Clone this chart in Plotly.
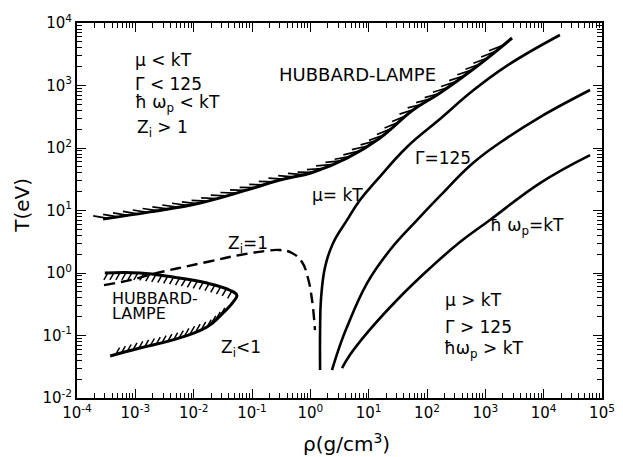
import numpy as np
import plotly.graph_objects as go

# ---- boundaries in the density / temperature plane (rho in g/cm^3, T in eV) ----
hl_upper_rho = [2.8e-4, 1.8e-3, 0.0129, 0.092, 0.30, 1.11, 4.25, 15.7, 57.5, 167, 810, 2870]
hl_upper_T = [7.3, 9.5, 13.2, 22, 30.8, 41, 69, 145, 405, 760, 2210, 5750]

# closed Hubbard-Lampe pocket at low T: upper edge out to the tip, then lower edge back
hl_loop_top_rho = [3.0e-4, 1.2e-3, 4.4e-3, 0.0169, 0.042, 0.055]
hl_loop_top_T = [1.0, 1.0, 0.86, 0.69, 0.53, 0.44]
hl_loop_bot_rho = [0.055, 0.047, 0.032, 0.0169, 4.4e-3, 1.2e-3, 3.7e-4]
hl_loop_bot_T = [0.44, 0.34, 0.23, 0.137, 0.085, 0.063, 0.047]

zi1_rho = [2.9e-4, 8.1e-4, 2.35e-3, 0.0169, 0.062, 0.167, 0.30, 0.485, 0.72, 0.91, 1.07, 1.20]
zi1_T = [0.64, 0.77, 1.0, 1.5, 1.94, 2.25, 2.33, 2.09, 1.5, 0.83, 0.37, 0.122]

mu_rho = [1.47, 1.47, 1.52, 1.79, 2.45, 4.25, 7.1, 13.9, 45.4, 167, 615, 2400, 19000]
mu_T = [0.028, 0.122, 0.37, 1.25, 3.0, 7.0, 14.7, 30.8, 104, 291, 830, 2100, 6430]

gamma_rho = [2.35, 3.23, 4.25, 9.4, 23.2, 67.4, 167, 615, 2355, 8670, 62400]
gamma_T = [0.028, 0.070, 0.137, 0.69, 2.33, 7.0, 17.1, 57.5, 145, 313, 847]

plasma_rho = [3.49, 4.79, 9.4, 30.6, 113, 368, 1200, 8670, 62400]
plasma_T = [0.030, 0.049, 0.11, 0.37, 1.2, 3.13, 7.05, 27.5, 77]

decades_x = list(range(-4, 6))
decades_y = list(range(-2, 5))

# ---- figure geometry ----
W, H = 623, 457
ML, MR, MT, MB = 77, 21, 23, 59
KX = (W - ML - MR) / (decades_x[-1] - decades_x[0])   # pixels per decade in rho
KY = (H - MT - MB) / (decades_y[-1] - decades_y[0])   # pixels per decade in T

INK = "black"
FONT = "DejaVu Sans, Verdana, sans-serif"


def to_screen(rho, T):
    return np.log10(np.asarray(rho, float)) * KX, -np.log10(np.asarray(T, float)) * KY


def from_screen(u, v):
    return 10 ** (np.asarray(u) / KX), 10 ** (-np.asarray(v) / KY)


def resample(rho, T, step):
    u, v = to_screen(rho, T)
    s = np.concatenate([[0.0], np.cumsum(np.hypot(np.diff(u), np.diff(v)))])
    ss = np.arange(step / 2, s[-1] - step / 4, step)
    return np.interp(ss, s, u), np.interp(ss, s, v)


def hatch_along(rho, T, step, length, turn_deg=None, fixed=None):
    """Short strokes attached to a boundary curve (screen-space lengths)."""
    u, v = resample(rho, T, step)
    xs, ys = [], []
    tu, tv = np.gradient(u), np.gradient(v)
    for i in range(len(u)):
        if fixed is not None:
            du, dv = fixed
            n = np.hypot(du, dv)
            du, dv = du / n * length, dv / n * length
        else:
            a = np.arctan2(-tv[i], tu[i]) - np.radians(turn_deg)
            du, dv = -np.cos(a) * length, np.sin(a) * length
        r0, t0 = from_screen(u[i], v[i])
        r1, t1 = from_screen(u[i] + du, v[i] + dv)
        xs += [float(r0), float(r1), None]
        ys += [float(t0), float(t1), None]
    return xs, ys


fig = go.Figure()


def curve(x, y, dash="solid", width=2.6, shape="spline"):
    fig.add_trace(go.Scatter(x=x, y=y, mode="lines", showlegend=False, hoverinfo="skip",
                             line=dict(color=INK, width=width, dash=dash, shape=shape,
                                       smoothing=1.2)))


# hatching first, then the boundaries on top
hx, hy = hatch_along(hl_upper_rho, hl_upper_T, 10, 15, turn_deg=18)
curve(hx, hy, width=1.7, shape="linear")
hx, hy = hatch_along(hl_loop_top_rho, hl_loop_top_T, 6, 8, fixed=(-4, 7))
curve(hx, hy, width=1.5, shape="linear")
hx, hy = hatch_along(hl_loop_bot_rho[2:], hl_loop_bot_T[2:], 6, 8, fixed=(4, -7))
curve(hx, hy, width=1.5, shape="linear")

curve(hl_upper_rho, hl_upper_T, width=3)
curve(hl_loop_top_rho + hl_loop_bot_rho[1:], hl_loop_top_T + hl_loop_bot_T[1:], width=3)
curve(zi1_rho, zi1_T, dash="11px,6px", width=2.4)
curve(mu_rho, mu_T)
curve(gamma_rho, gamma_T)
curve(plasma_rho, plasma_T)


def label(text, lx, ly, size=17, xanchor="center"):
    fig.add_annotation(x=lx, y=ly, xref="x", yref="y", text=text, showarrow=False,
                       xanchor=xanchor, yanchor="middle",
                       font=dict(family=FONT, size=size, color=INK))


# region descriptions (positions in log10 axis units)
label("μ < kT", -3.04, 3.41, xanchor="left")
label("Γ < 125", -3.04, 3.03, xanchor="left")
label("ħ ω<sub>p</sub> < kT", -3.04, 2.72, xanchor="left")
label("Z<sub>i</sub> > 1", -3.01, 2.32, xanchor="left")
label("HUBBARD-LAMPE", 0.80, 3.17, size=18)
label("μ= kT", 0.46, 1.25)
label("Γ=125", 2.28, 1.84)
label("ħ ω<sub>p</sub>=kT", 3.72, 0.74)
label("Z<sub>i</sub>=1", -1.07, 0.45)
label("HUBBARD-", -3.43, -0.40, size=16, xanchor="left")
label("LAMPE", -3.43, -0.64, size=16, xanchor="left")
label("Z<sub>i</sub><1", -1.19, -1.20)
label("μ > kT", 2.28, -0.43, xanchor="left")
label("Γ > 125", 2.28, -0.86, xanchor="left")
label("ħω<sub>p</sub> > kT", 2.26, -1.23, xanchor="left")

# axis titles, placed in paper coordinates so the plotting area stays fixed
fig.add_annotation(x=0.514, y=-0.12, xref="paper", yref="paper", text="ρ(g/cm<sup>3</sup>)",
                   showarrow=False, xanchor="center", yanchor="middle",
                   font=dict(family=FONT, size=20, color=INK))
fig.add_annotation(x=-0.105, y=0.515, xref="paper", yref="paper", text="T(eV)",
                   textangle=-90, showarrow=False, xanchor="center", yanchor="middle",
                   font=dict(family=FONT, size=20, color=INK))


def decade_text(p):
    return "10<sup>%s</sup>" % ("-%d" % -p if p < 0 else "%d" % p)


def minor_vals(decs):
    return [m * 10.0 ** p for p in decs[:-1] for m in range(2, 10)]


axis_common = dict(
    type="log", showgrid=False, zeroline=False, showline=True, linecolor=INK, linewidth=2,
    mirror="ticks", ticks="inside", ticklen=9, tickwidth=1.3, tickcolor=INK,
    tickfont=dict(family=FONT, size=15, color=INK), automargin=False,
)

fig.update_xaxes(
    **axis_common,
    range=[decades_x[0], decades_x[-1]],
    tickvals=[10.0 ** p for p in decades_x], ticktext=[decade_text(p) for p in decades_x],
    minor=dict(tickvals=minor_vals(decades_x), ticks="inside", ticklen=5, tickwidth=1.1,
               tickcolor=INK, showgrid=False),
)
fig.update_yaxes(
    **axis_common,
    range=[decades_y[0], decades_y[-1]],
    tickvals=[10.0 ** p for p in decades_y], ticktext=[decade_text(p) for p in decades_y],
    minor=dict(tickvals=minor_vals(decades_y), ticks="inside", ticklen=5, tickwidth=1.1,
               tickcolor=INK, showgrid=False),
)

fig.update_layout(
    width=W, height=H,
    margin=dict(l=ML, r=MR, t=MT, b=MB),
    paper_bgcolor="white", plot_bgcolor="white",
    showlegend=False,
)

fig.write_html("out.html")
